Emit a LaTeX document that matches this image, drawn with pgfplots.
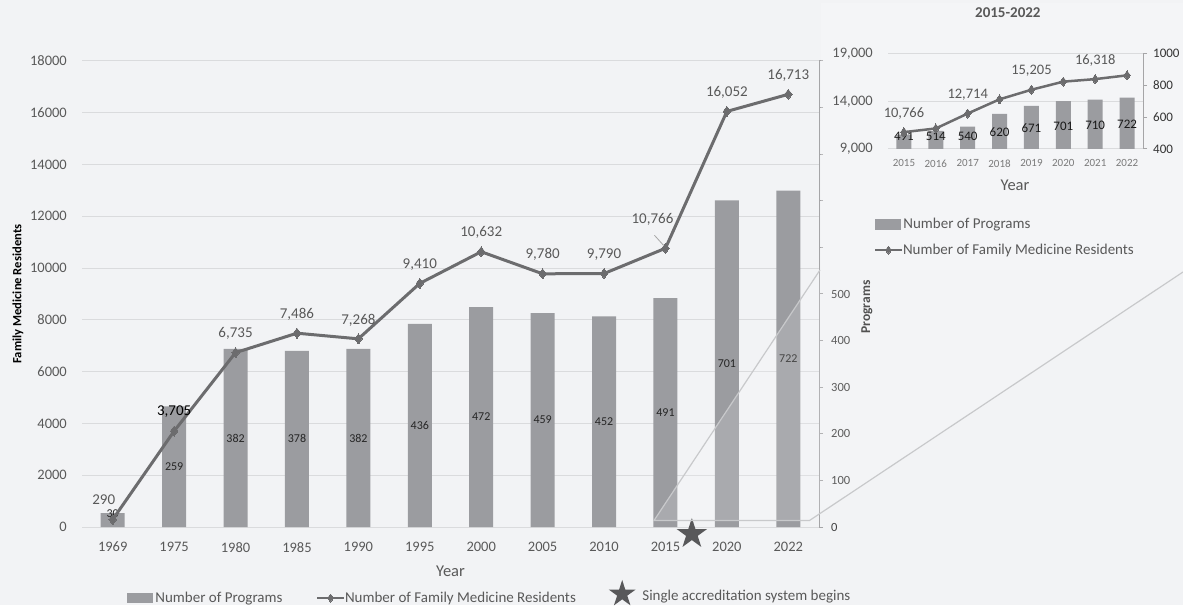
\documentclass[border=0pt]{standalone}
\usepackage{fontspec}
\setmainfont{Carlito}
\usepackage{pgfplots}
\pgfplotsset{compat=1.18}
\definecolor{bgc}{RGB}{242,243,245}
\definecolor{barc}{RGB}{155,156,160}
\definecolor{linec}{RGB}{108,108,110}
\definecolor{gridc}{RGB}{218,219,221}
\definecolor{tickc}{RGB}{89,89,89}
\definecolor{axc}{RGB}{165,165,167}
\definecolor{starc}{RGB}{88,88,90}
\definecolor{zoomc}{RGB}{200,201,203}
\newcommand\fs[1]{\fontsize{#1}{#1}\selectfont}
\pgfdeclareplotmark{fstar}{%
  \pgfpathmoveto{\pgfpointpolar{90}{\pgfplotmarksize}}%
  \pgfpathlineto{\pgfpointpolar{126}{0.382\pgfplotmarksize}}%
  \pgfpathlineto{\pgfpointpolar{162}{\pgfplotmarksize}}%
  \pgfpathlineto{\pgfpointpolar{198}{0.382\pgfplotmarksize}}%
  \pgfpathlineto{\pgfpointpolar{234}{\pgfplotmarksize}}%
  \pgfpathlineto{\pgfpointpolar{270}{0.382\pgfplotmarksize}}%
  \pgfpathlineto{\pgfpointpolar{306}{\pgfplotmarksize}}%
  \pgfpathlineto{\pgfpointpolar{342}{0.382\pgfplotmarksize}}%
  \pgfpathlineto{\pgfpointpolar{18}{\pgfplotmarksize}}%
  \pgfpathlineto{\pgfpointpolar{54}{0.382\pgfplotmarksize}}%
  \pgfpathclose\pgfusepathqfill}
\pgfplotsset{
  mainax/.style={at={(82pt,78pt)}, anchor=south west, width=737pt, height=466pt,
    scale only axis, xmin=-0.5, xmax=11.5, clip=false, scaled y ticks=false},
  insax/.style={at={(888pt,456pt)}, anchor=south west, width=255pt, height=95.5pt,
    scale only axis, xmin=-0.5, xmax=7.5, clip=false, scaled y ticks=false},
  nolegbox/.style={legend style={draw=none, fill=none, inner sep=0pt, outer sep=0pt,
    nodes={inner sep=0pt, anchor=west, text=tickc, font=\fs{15}},
    /tikz/every odd column/.style={column sep=3pt}}},
  linelegend/.style={legend image code/.code={%
    \path[draw=none, fill=none] (0pt,-4pt) (25pt,4pt);
    \draw[overlay, linec, line width=2.5pt] (0pt,0pt) -- (27pt,0pt);
    \draw[overlay, linec, mark=diamond*, mark size=4pt] plot coordinates {(13.5pt,0pt)};}},
}
\begin{document}
\begin{tikzpicture}[x=1pt,y=1pt]
\fill[bgc] (0,0) rectangle (1183,605);
\useasboundingbox (0,0) rectangle (1183,605);
% ---------- main: grid, ticks, labels
\begin{axis}[mainax, ymin=0, ymax=18000,
  axis lines*=left, axis line style={draw=none},
  ytick={0,2000,4000,6000,8000,10000,12000,14000,16000,18000},
  yticklabels={0,2000,4000,6000,8000,10000,12000,14000,16000,18000},
  xtick={0,...,11},
  xticklabels={1969,1975,1980,1985,1990,1995,2000,2005,2010,2015,2020,2022},
  ymajorgrids, grid style={draw=gridc, line width=1pt},
  major tick length=0pt,
  tick label style={font=\fs{14.5}, text=tickc, inner sep=0pt},
  yticklabel style={anchor=east}, yticklabel shift=15pt,
  xticklabel style={anchor=north}, xticklabel shift=15pt,
  xlabel={Year}, xlabel style={at={(axis description cs:0.5,0)}, anchor=center, yshift=-44pt, font=\fs{16.5}, text=tickc},
  ylabel={Family Medicine Residents}, ylabel style={at={(axis description cs:-0.0868,0.5)}, anchor=center, font=\bfseries\fs{12.6}, text=black},
  nolegbox, legend style={at={(axis description cs:0.0611,-0.15236)}, anchor=west},
]
\addlegendimage{legend image code/.code={\fill[barc] (0pt,-4.5pt) rectangle (25pt,4.5pt);}}
\addlegendentry{Number of Programs}
\end{axis}
% ---------- main: bars, right axis
\begin{axis}[mainax, ymin=0, ymax=1000,
  axis y line*=right, axis x line=none,
  y axis line style={draw=axc, line width=1pt},
  ytick={0,100,200,300,400,500,600,700,800,900,1000},
  yticklabels={0,100,200,300,400,500,,,,,},
  ytick style={draw=axc, line width=1pt}, major tick length=4pt, tick align=outside,
  yticklabel style={font=\fs{12.5}, text=black!75, anchor=west, inner sep=0pt}, yticklabel shift=8pt,
  ylabel={Programs}, ylabel style={at={(axis description cs:1.0651,0.472)}, anchor=center, font=\bfseries\fs{13.5}, text=black!80},
  nolegbox, legend style={at={(axis description cs:0.7137,-0.1409)}, anchor=west},
]
\addplot[ybar, bar width=24pt, fill=barc, draw=none, forget plot] coordinates {(0,30)(1,259)(2,382)(3,378)(4,382)(5,436)(6,472)(7,459)(8,452)(9,491)(10,701)(11,722)};
\addplot[draw=none, forget plot, nodes near coords, point meta=explicit symbolic,
  nodes near coords style={anchor=center, font=\fs{12}, text=black!85}] coordinates {(0,28)[30] (1,129.5)[259] (2,191)[382] (3,189)[378] (4,191)[382] (5,218)[436] (6,236)[472] (7,229.5)[459] (8,226)[452] (9,245.5)[491] (10,350.5)[701] (11,361)[722]};
\addplot[only marks, mark=fstar, mark size=16pt, starc, forget plot] coordinates {(9.43,-15)};
\addlegendimage{legend image code/.code={\path (0pt,0pt) (31pt,0pt); \draw[starc, mark=fstar, mark size=14pt] plot coordinates {(14pt,2pt)};}}
\addlegendentry{Single accreditation system begins}
\end{axis}
% ---------- zoom cone overlay
\fill[white, opacity=0.15] (654,84.5) -- (820,335) -- (1183,335) -- (1183,333) -- (809.5,84.5) -- cycle;
\draw[zoomc, line width=1.2pt] (820,335) -- (654,84.5) -- (809.5,84.5) -- (1183,333);
% ---------- main: line
\begin{axis}[mainax, ymin=0, ymax=18000, hide axis,
  nolegbox, legend style={at={(axis description cs:0.3189,-0.15236)}, anchor=west}]
\addplot[linec, line width=3pt, mark=diamond*, mark size=5pt, mark options={solid, line width=0pt}, linelegend]
  coordinates {(0,290)(1,3705)(2,6735)(3,7486)(4,7268)(5,9410)(6,10632)(7,9780)(8,9790)(9,10766)(10,16052)(11,16713)};
\addlegendentry{Number of Family Medicine Residents}
\addplot[draw=none, forget plot, nodes near coords, point meta=explicit symbolic,
  nodes near coords style={anchor=center, yshift=19pt, font=\fs{15}, text=tickc}]
  coordinates {(2,6735)[6,735] (3,7486)[7,486] (4,7268)[7,268] (5,9410)[9,410] (6,10632)[10,632] (7,9780)[9,780] (8,9790)[9,790] (10,16052)[16,052] (11,16713)[16,713]};
\addplot[draw=none, forget plot, nodes near coords, point meta=explicit symbolic,
  nodes near coords style={anchor=center, xshift=-9pt, yshift=19.5pt, font=\fs{15}, text=tickc}]
  coordinates {(0,290)[290]};
\addplot[draw=none, forget plot, nodes near coords, point meta=explicit symbolic,
  nodes near coords style={anchor=center, yshift=19pt, font=\fs{15}, text=black}]
  coordinates {(1,3705)[3,705]};
\addplot[draw=none, forget plot, nodes near coords, point meta=explicit symbolic,
  nodes near coords style={anchor=center, xshift=-13pt, yshift=29pt, font=\fs{15}, text=tickc}]
  coordinates {(9,10766)[10,766]};
\draw[gray!70, line width=0.8pt] (axis cs:9,10766) ++(-2pt,3pt) -- ++(-9pt,10pt);
\end{axis}
% ---------- inset panel
\fill[white, opacity=0.22] (821,335) rectangle (1183,602);
\begin{axis}[insax, ymin=9000, ymax=19000, axis lines*=left, axis line style={draw=none},
  ytick={9000,14000,19000}, yticklabels={{9,000},{14,000},{19,000}},
  xtick={0,...,7}, xticklabels={2015,2016,2017,2018,2019,2020,2021,2022},
  ymajorgrids, grid style={draw=gridc, line width=1pt}, major tick length=0pt,
  yticklabel style={font=\fs{14.5}, text=tickc, inner sep=0pt, anchor=east}, yticklabel shift=15pt,
  xticklabel style={font=\fs{11}, text=tickc!80, inner sep=0pt, anchor=north}, xticklabel shift=10.5pt,
  xlabel={Year}, xlabel style={at={(axis description cs:0.498,0)}, anchor=center, yshift=-36pt, font=\fs{16.5}, text=tickc},
  title={2015-2022}, title style={at={(axis description cs:0.47,1.361)}, anchor=center, font=\bfseries\fs{15}, text=tickc},
]
\end{axis}
\begin{axis}[insax, clip=true, ymin=400, ymax=1000, axis y line*=right, axis x line=none,
  y axis line style={draw=axc, line width=1pt}, ytick={400,600,800,1000}, yticklabels={400,600,800,1000},
  ytick style={draw=axc, line width=1pt}, major tick length=4pt, tick align=outside,
  yticklabel style={font=\fs{13}, text=black!80, anchor=west, inner sep=0pt}, yticklabel shift=6pt,
  nolegbox, legend style={at={(axis description cs:-0.051,-0.785)}, anchor=west}]
\addplot[ybar, bar width=15pt, fill=barc, draw=none, forget plot] coordinates {(0,491)(1,514)(2,540)(3,620)(4,671)(5,701)(6,710)(7,722)};
\addplot[draw=none, forget plot, nodes near coords, point meta=explicit symbolic,
  nodes near coords style={anchor=center, font=\fs{13}, text=black!90}]
  coordinates {(0,482)[491] (1,482)[514] (2,482)[540] (3,507)[620] (4,532)[671] (5,545)[701] (6,551)[710] (7,557)[722]};
\addlegendimage{legend image code/.code={\fill[barc] (0pt,-5pt) rectangle (25pt,5pt);}}
\addlegendentry{Number of Programs}
\end{axis}
\begin{axis}[insax, ymin=9000, ymax=19000, hide axis,
  nolegbox, legend style={at={(axis description cs:-0.051,-1.058)}, anchor=west}]
\addplot[linec, line width=2.5pt, mark=diamond*, mark size=4.5pt, mark options={solid, line width=0pt}, linelegend]
  coordinates {(0,10766)(1,11150)(2,12714)(3,14200)(4,15205)(5,16052)(6,16318)(7,16713)};
\addlegendentry{Number of Family Medicine Residents}
\addplot[draw=none, forget plot, nodes near coords, point meta=explicit symbolic,
  nodes near coords style={anchor=center, yshift=19pt, font=\fs{14.5}, text=tickc}]
  coordinates {(0,10766)[10,766] (2,12714)[12,714] (4,15205)[15,205] (6,16318)[16,318]};
\end{axis}
\end{tikzpicture}
\end{document}
